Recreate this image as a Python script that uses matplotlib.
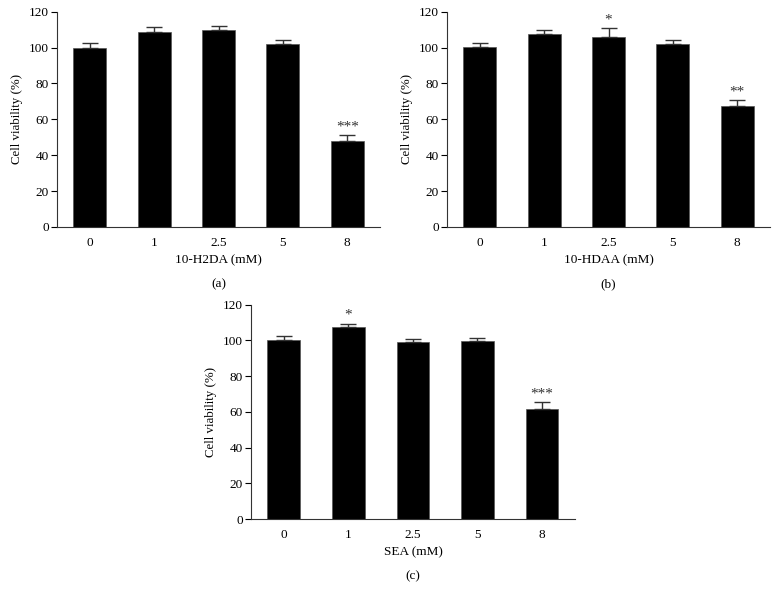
import matplotlib
matplotlib.use("Agg")
import matplotlib.pyplot as plt
import numpy as np

plt.rcParams["font.family"] = ["Liberation Serif", "DejaVu Serif"]

doses = ["0", "1", "2.5", "5", "8"]

# panel (a) 10-H2DA
a_mean = [100.0, 108.8, 109.6, 102.0, 48.2]
a_err = [2.3, 2.8, 2.6, 2.0, 3.1]
a_sig = ["", "", "", "", "***"]

# panel (b) 10-HDAA
b_mean = [100.5, 107.7, 106.0, 102.0, 67.2]
b_err = [1.8, 1.9, 4.9, 2.0, 3.5]
b_sig = ["", "", "*", "", "**"]

# panel (c) SEA
c_mean = [100.2, 107.4, 99.3, 99.8, 61.7]
c_err = [2.2, 2.0, 1.4, 1.6, 3.9]
c_sig = ["", "*", "", "", "***"]

panels = [
    (a_mean, a_err, a_sig, "10-H2DA (mM)", "(a)", [0.0733, 0.6223, 0.4152, 0.3582]),
    (b_mean, b_err, b_sig, "10-HDAA (mM)", "(b)", [0.5746, 0.6223, 0.4152, 0.3582]),
    (c_mean, c_err, c_sig, "SEA (mM)", "(c)", [0.3226, 0.1364, 0.4164, 0.3566]),
]

fig = plt.figure(figsize=(7.78, 6.01), dpi=100)
for mean, err, sig, xlab, tag, rect in panels:
    ax = fig.add_axes(rect)
    x = np.arange(len(doses))
    ax.bar(x, mean, width=0.51, color="black", edgecolor="#555555", linewidth=0.5,
           yerr=[np.zeros(len(err)), err], capsize=5.5,
           error_kw=dict(ecolor="#333333", elinewidth=1.0, capthick=1.0))
    for xi, m, e, s in zip(x, mean, err, sig):
        if s:
            ax.text(xi, m + e + 1.0, s, ha="center", va="bottom", fontsize=11, color="#333333")
    ax.set_xlim(-0.51, 4.51)
    ax.set_ylim(0, 120)
    ax.set_yticks(range(0, 121, 20))
    ax.set_xticks(x)
    ax.set_xticklabels(doses)
    ax.tick_params(axis="x", length=0, labelsize=9.5, pad=7)
    ax.tick_params(axis="y", length=4, width=0.8, labelsize=9.5, pad=2)
    for side in ["top", "right"]:
        ax.spines[side].set_visible(False)
    for side in ["left", "bottom"]:
        ax.spines[side].set_linewidth(0.8)
        ax.spines[side].set_color("#333333")
    ax.set_ylabel("Cell viability (%)", fontsize=9.3, labelpad=4)
    ax.set_xlabel(xlab, fontsize=9.5, labelpad=4)
    ax.text(0.5, -0.265, tag, transform=ax.transAxes, ha="center", va="center", fontsize=9.5)

fig.savefig("out.png", dpi=100)
